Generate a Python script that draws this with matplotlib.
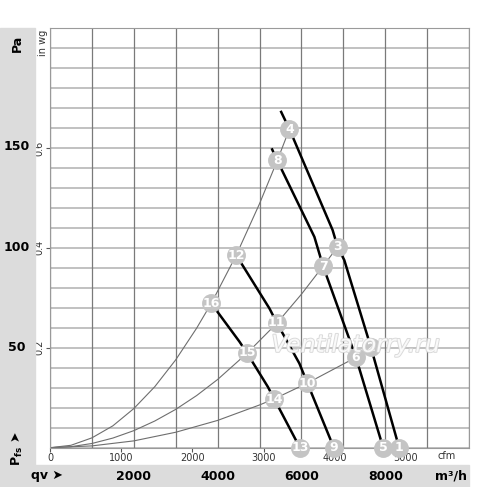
import numpy as np
import matplotlib.pyplot as plt
import matplotlib.transforms as mtransforms
import matplotlib.patheffects as pe
from matplotlib.patches import Rectangle

plt.rcParams['font.family'] = ['DejaVu Sans']

PA_PER_INWG = 249.09
M3H_PER_CFM = 1.699

# fan curves (q in m3/h, p in Pa)
fan1_q = [5517, 5714, 6745, 6864, 7024, 7660, 8333]
fan1_p = [167.4, 158.8, 108.5, 100.1, 93.5, 50.0, 0]
fan2_q = [5302, 5421, 6310, 6517, 7302, 7952]
fan2_p = [148.7, 143.3, 105.1, 90.5, 45.0, 0]
fan3_q = [4445, 5238, 5412, 5952, 6143, 6774]
fan3_p = [96.0, 69.4, 62.3, 42.0, 32.2, 0]
fan4_q = [3850, 4524, 4698, 5198, 5357, 5964]
fan4_p = [71.9, 52.8, 47.3, 30.4, 24.1, 0]

# system curves
sysA_q = [0, 500, 1000, 1500, 2000, 2500, 3000, 3500, 3850, 4445, 5000, 5421, 5714]
sysA_p = [0, 1.2, 4.9, 10.9, 19.5, 30.4, 43.8, 59.6, 72.0, 96.0, 121.6, 143.0, 158.8]
sysB_q = [0, 500, 1000, 1500, 2000, 2500, 3000, 3500, 4000, 4698, 5412, 6000, 6517, 6864]
sysB_p = [0, 0.5, 2.1, 4.8, 8.5, 13.3, 19.1, 26.0, 34.0, 47.0, 62.0, 76.5, 90.5, 100.1]
sysC_q = [0, 1000, 2000, 3000, 4000, 5000, 5357, 6143, 7000, 7302, 7660]
sysC_p = [0, 0.9, 3.4, 7.7, 13.6, 21.3, 24.4, 32.2, 41.7, 45.0, 50.0]

# numbered operating points
pt_num = list(range(1, 17))
pt_q = [8333, 7660, 6864, 5714, 7952, 7302, 6517, 5421,
        6774, 6143, 5412, 4445, 5964, 5357, 4698, 3850]
pt_p = [0, 50.0, 100.1, 158.8, 0, 45.0, 90.5, 143.3,
        0, 32.2, 62.3, 96.0, 0, 24.1, 47.3, 71.9]

pa_ticks = [50, 100, 150]
inwg_ticks = [0.2, 0.4, 0.6]
cfm_ticks = [0, 1000, 2000, 3000, 4000, 5000]
m3h_ticks = [2000, 4000, 6000, 8000]

W, H = 500, 487
fig = plt.figure(figsize=(W / 100, H / 100), dpi=100)
fig.patches.append(Rectangle((0, 0), 35 / W, 1 - 28 / H, transform=fig.transFigure,
                             color='#dcdcdc', zorder=0))
fig.patches.append(Rectangle((0, 0), 469 / W, 22 / H, transform=fig.transFigure,
                             color='#dcdcdc', zorder=0))

ax = fig.add_axes([50 / W, 39.3 / H, 419 / W, 419.7 / H])
ax.set_xlim(0, 10000)
ax.set_ylim(0, 0.84 * PA_PER_INWG)

for k in range(22):
    ax.axhline(k * 0.04 * PA_PER_INWG, color='#bcbcbc', lw=1.3, zorder=1)
for q in range(0, 10001, 1000):
    ax.axvline(q, color='#7a7a7a', lw=0.9, zorder=1)
for s in ax.spines.values():
    s.set_color('#9a9a9a')

# system curves
for qq, pp in [(sysA_q, sysA_p), (sysB_q, sysB_p), (sysC_q, sysC_p)]:
    ax.plot(qq, pp, color='#6e6e6e', lw=0.8, zorder=2)
# fan curves
for qq, pp in [(fan1_q, fan1_p), (fan2_q, fan2_p), (fan3_q, fan3_p), (fan4_q, fan4_p)]:
    ax.plot(qq, pp, color='black', lw=1.8, zorder=3)

ax.scatter(pt_q, pt_p, s=185, color='#c4c4c4', zorder=6, clip_on=False, linewidths=0)
for n, q, p in zip(pt_num, pt_q, pt_p):
    ax.text(q, p, str(n), color='white', fontsize=9, fontweight='bold',
            ha='center', va='center', zorder=7, clip_on=False)

ax.text(0.73, 0.245, 'Ventilatorry.ru', transform=ax.transAxes, fontsize=17,
        style='italic', color='white', alpha=0.85, ha='center', va='center', zorder=8,
        path_effects=[pe.withStroke(linewidth=1.4, foreground='#d4d4d4')])

# cfm axis
ax.set_xticks([c * M3H_PER_CFM for c in cfm_ticks])
ax.set_xticklabels([str(c) for c in cfm_ticks])
ax.tick_params(axis='x', direction='out', length=3, width=0.8, colors='#555',
               labelsize=7, pad=1, labelcolor='#333')
# in wg axis
ax.set_yticks([v * PA_PER_INWG for v in inwg_ticks])
ax.set_yticklabels([str(v) for v in inwg_ticks], rotation=90, va='center')
ax.tick_params(axis='y', direction='out', length=3, width=0.8, colors='#555',
               labelsize=7, pad=1, labelcolor='#333')
fig.text(43 / W, 1 - 43 / H, 'in wg', rotation=90, fontsize=7,
         color='#333', ha='center', va='center')
fig.text(447 / W, 1 - 456 / H, 'cfm', fontsize=7, color='#333',
         ha='center', va='center')

# Pa scale in left band
ty = mtransforms.blended_transform_factory(fig.transFigure, ax.transData)
for p in pa_ticks:
    fig.text(17 / W, p, str(p), transform=ty, fontsize=9, fontweight='bold',
             ha='center', va='center')
fig.text(17 / W, 1 - 43 / H, 'Pa', rotation=90, fontsize=9, fontweight='bold',
         ha='center', va='center')
fig.text(17 / W, 1 - 449 / H, r'$\mathbf{P_{fs}}$ ➤', rotation=90, fontsize=9,
         fontweight='bold', ha='center', va='center')

# m3/h scale in bottom band
tx = mtransforms.blended_transform_factory(ax.transData, fig.transFigure)
for q in m3h_ticks:
    fig.text(q, 1 - 476 / H, str(q), transform=tx, fontsize=9, fontweight='bold',
             ha='center', va='center')
fig.text(47 / W, 1 - 476 / H, 'qv ➤', fontsize=9, fontweight='bold',
         ha='center', va='center')
fig.text(451 / W, 1 - 476 / H, 'm³/h', fontsize=9, fontweight='bold',
         ha='center', va='center')

fig.savefig('out.png', dpi=100)
